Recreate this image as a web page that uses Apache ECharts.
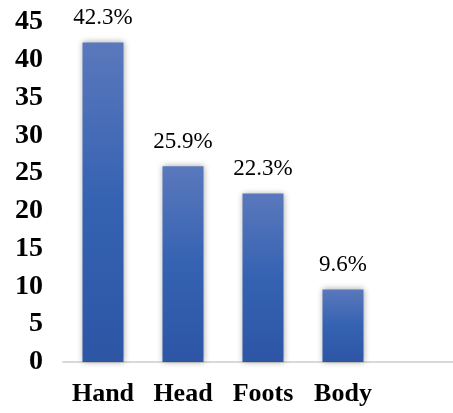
<!DOCTYPE html>
<html><head><meta charset="utf-8">
<script src="https://cdn.jsdelivr.net/npm/echarts@6/dist/echarts.min.js"></script>
<style>html,body{margin:0;padding:0;background:#fff}#c{width:453px;height:413px}</style>
</head><body><div id="c"></div>
<script>
const categories = ['Hand', 'Head', 'Foots', 'Body', ''];
const values = [42.3, 25.9, 22.3, 9.6, null];
const yTicks = [0, 5, 10, 15, 20, 25, 30, 35, 40, 45];

const chart = echarts.init(document.getElementById('c'));
const serif = '"Liberation Serif", "Times New Roman", serif';
chart.setOption({
  animation: false,
  grid: { left: 63, right: -10, top: 22, bottom: 51, containLabel: false, outerBoundsMode: 'none' },
  xAxis: {
    type: 'category', data: categories,
    axisLine: { lineStyle: { color: '#d9d9d9', width: 2 } },
    axisTick: { show: false },
    axisLabel: { interval: 0, margin: 19, color: '#000', fontFamily: serif, fontWeight: 'bold', fontSize: 26 }
  },
  yAxis: {
    type: 'value', min: yTicks[0], max: yTicks[yTicks.length - 1], interval: 5,
    splitLine: { show: false },
    axisLine: { show: false }, axisTick: { show: false },
    axisLabel: { margin: 20, color: '#000', fontFamily: serif, fontWeight: 'bold', fontSize: 28 }
  },
  series: [{
    type: 'bar', data: values, barWidth: 41,
    itemStyle: {
      color: new echarts.graphic.LinearGradient(0, 0, 0, 1, [
        { offset: 0, color: '#5a78bc' },
        { offset: 0.5, color: '#3562b2' },
        { offset: 1, color: '#2d56a5' }
      ]),
      shadowColor: 'rgba(0,0,0,0.35)', shadowBlur: 6, shadowOffsetX: 0, shadowOffsetY: 0
    },
    label: {
      show: true, position: 'top', distance: 13, color: '#000',
      fontFamily: serif, fontSize: 23,
      formatter: p => p.value.toFixed(1) + '%'
    }
  }]
});
</script></body></html>
